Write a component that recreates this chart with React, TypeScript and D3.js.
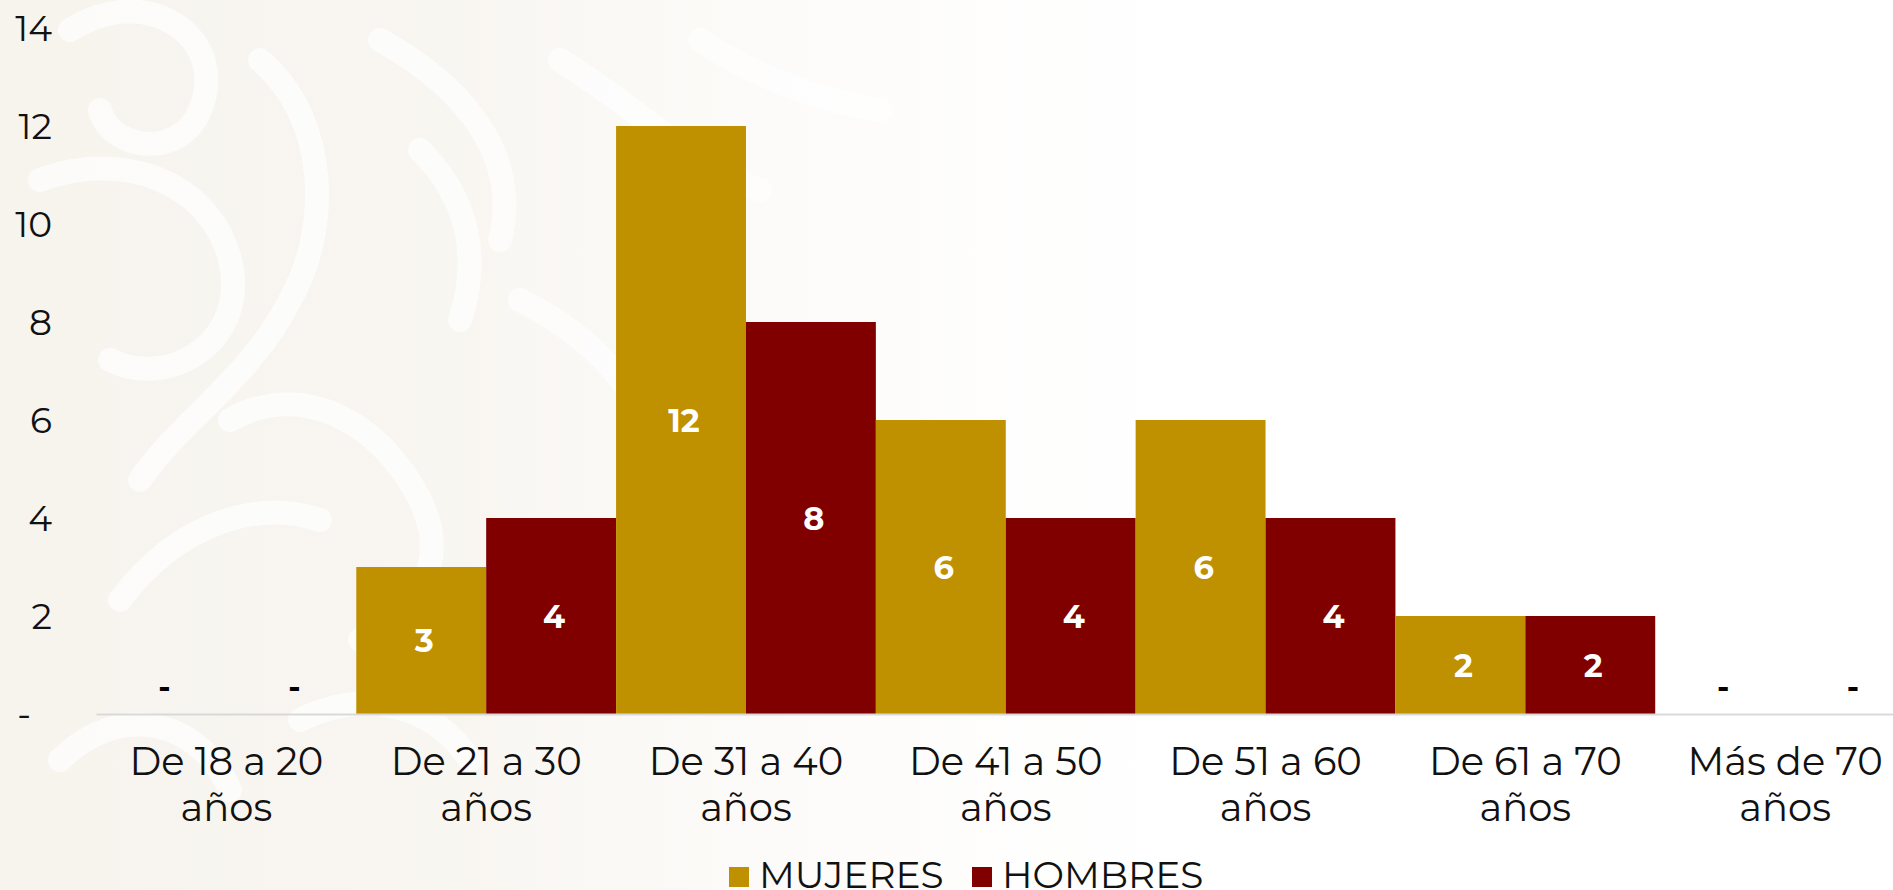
import React, { useEffect } from "react";
import * as d3 from "d3";

const categories = [
  "De 18 a 20 años",
  "De 21 a 30 años",
  "De 31 a 40 años",
  "De 41 a 50 años",
  "De 51 a 60 años",
  "De 61 a 70 años",
  "Más de 70 años",
];
const seriesNames = ["MUJERES", "HOMBRES"];
const mujeres = [0, 3, 12, 6, 6, 2, 0];
const hombres = [0, 4, 8, 4, 4, 2, 0];
const seriesColors = ["#BF9000", "#800000"];
const yTicks = [0, 2, 4, 6, 8, 10, 12, 14];

const W = 1893;
const H = 890;
const FONT = "Montserrat, 'DejaVu Sans', sans-serif";

const swirls = [
  "M 70 30 C 150 -20 230 40 200 110 C 180 160 110 150 100 110",
  "M 40 180 C 120 150 210 180 230 260 C 250 340 170 390 110 360",
  "M 260 60 C 330 120 330 230 290 300 C 250 380 180 420 140 480",
  "M 380 40 C 470 90 520 160 500 240",
  "M 560 60 C 640 110 700 170 760 190",
  "M 120 600 C 180 520 260 500 320 520",
  "M 230 420 C 300 380 380 420 420 500 C 450 560 420 610 360 640",
  "M 520 300 C 600 340 650 400 660 470",
  "M 60 760 C 120 700 200 720 230 790",
  "M 300 720 C 360 690 430 700 470 760",
  "M 700 40 C 760 80 820 100 880 110",
  "M 420 150 C 470 200 480 260 460 320",
];

export default function App() {
  useEffect(() => {
    document.body.style.margin = "0";
    document.body.style.overflow = "hidden";
  }, []);

  const x = d3
    .scaleBand<string>()
    .domain(categories)
    .range([96.5, 1915])
    .padding(0);
  const xs = d3
    .scaleBand<string>()
    .domain(seriesNames)
    .range([0, x.bandwidth()])
    .padding(0);
  const y = d3.scaleLinear().domain([0, 14]).range([714, 28]);
  const series = [mujeres, hombres];

  return (
    <svg
      width={W}
      height={H}
      style={{ position: "absolute", left: 0, top: 0, display: "block" }}
      fontFamily={FONT}
    >
      <defs>
        <linearGradient id="bgfade" x1="0" y1="0" x2="1" y2="0">
          <stop offset="0" stopColor="#f7f4ee" stopOpacity={1} />
          <stop offset="0.35" stopColor="#f8f5f0" stopOpacity={0.9} />
          <stop offset="0.7" stopColor="#fbf9f6" stopOpacity={0.4} />
          <stop offset="1" stopColor="#ffffff" stopOpacity={0} />
        </linearGradient>
      </defs>
      <rect x={0} y={0} width={W} height={H} fill="#ffffff" />
      <rect x={0} y={0} width={1300} height={H} fill="url(#bgfade)" />
      <g fill="none" stroke="#ffffff" strokeWidth={24} strokeLinecap="round" opacity={0.7}>
        {swirls.map((d, i) => (
          <path key={i} d={d} />
        ))}
      </g>

      {/* y axis labels */}
      <g fontSize={36} fill="#111">
        {yTicks.map((t) => (
          <text
            key={t}
            x={t === 0 ? 31 : 52}
            y={y(t)}
            textAnchor="end"
            dominantBaseline="central"
          >
            {t === 0 ? "-" : t}
          </text>
        ))}
      </g>

      {/* bars */}
      {categories.map((c, ci) => (
        <g key={c} transform={`translate(${x(c)},0)`}>
          {seriesNames.map((s, si) => {
            const v = series[si][ci];
            const bx = xs(s) as number;
            const bw = xs.bandwidth();
            return (
              <g key={s}>
                {v > 0 && (
                  <rect
                    x={bx}
                    y={y(v)}
                    width={bw}
                    height={y(0) - y(v)}
                    fill={seriesColors[si]}
                  />
                )}
                <text
                  x={bx + bw / 2 + 3}
                  y={v > 0 ? (y(0) + y(v)) / 2 : y(0) - 28}
                  textAnchor="middle"
                  dominantBaseline="central"
                  fontSize={32}
                  fontWeight="bold"
                  fill={v > 0 ? "#ffffff" : "#000000"}
                >
                  {v > 0 ? v : "-"}
                </text>
              </g>
            );
          })}
        </g>
      ))}

      {/* axis line */}
      <line x1={96.5} x2={W} y1={y(0) + 0.5} y2={y(0) + 0.5} stroke="#d9d9d9" strokeWidth={2} />

      {/* x labels */}
      <g fontSize={38.5} fill="#111" textAnchor="middle">
        {categories.map((c) => {
          const idx = c.lastIndexOf(" ");
          const l1 = c.slice(0, idx);
          const l2 = c.slice(idx + 1);
          const cx = (x(c) as number) + x.bandwidth() / 2;
          return (
            <text key={c} x={cx} y={775}>
              <tspan x={cx}>{l1}</tspan>
              <tspan x={cx} y={821}>
                {l2}
              </tspan>
            </text>
          );
        })}
      </g>

      {/* legend */}
      <g>
        {seriesNames.map((s, i) => {
          const lx = i === 0 ? 729 : 972;
          return (
            <g key={s}>
              <rect x={lx} y={867} width={20} height={20} fill={seriesColors[i]} />
              <text x={lx + 30} y={888} fontSize={37.5} fill="#111">
                {s}
              </text>
            </g>
          );
        })}
      </g>
    </svg>
  );
}
